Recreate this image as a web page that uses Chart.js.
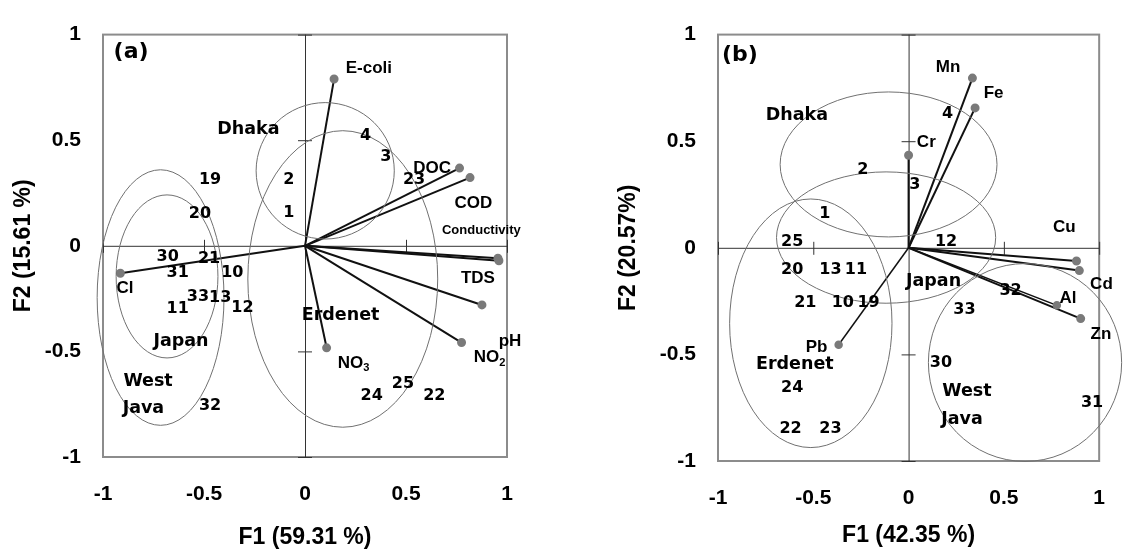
<!DOCTYPE html>
<html>
<head>
<meta charset="utf-8">
<script src="https://cdn.jsdelivr.net/npm/chart.js@4.4.1/dist/chart.umd.min.js"></script>
<style>
  html, body { margin: 0; padding: 0; background: #fff; }
  #wrap { position: relative; width: 1130px; height: 551px; }
  .panel { position: absolute; top: 0; height: 551px; }
  #pa { left: 0; width: 560px; }
  #pb { left: 560px; width: 570px; }
</style>
</head>
<body>
<div id="wrap">
  <div class="panel" id="pa"><canvas id="chartA"></canvas></div>
  <div class="panel" id="pb"><canvas id="chartB"></canvas></div>
</div>
<script>
// ---- panel (a) : water quality variables ----
const varNamesA = ["E-coli", "DOC", "COD", "Conductivity", "TDS", "pH", "NO2", "NO3", "Cl"];
const varF1A = [0.144, 0.765, 0.817, 0.955, 0.96, 0.876, 0.775, 0.107, -0.914];
const varF2A = [0.79, 0.368, 0.323, -0.059, -0.071, -0.28, -0.458, -0.483, -0.13];
const varTextA = ["E-coli", "DOC", "COD", "TDS", "pH", "NO_2", "NO_3", "Cl"];
const varTextF1A = [0.316, 0.629, 0.833, 0.856, 1.015, 0.914, 0.241, -0.891];
const varTextF2A = [0.842, 0.368, 0.199, -0.153, -0.45, -0.529, -0.556, -0.199];
const smallTextA = ["Conductivity"];
const smallTextF1A = [0.873];
const smallTextF2A = [0.074];

const obsA = ["19", "20", "30", "21", "31", "10", "11", "33", "13", "12", "32", "2", "1", "4", "3", "23", "24", "25", "22"];
const obsF1A = [-0.47, -0.52, -0.68, -0.475, -0.63, -0.36, -0.63, -0.53, -0.42, -0.31, -0.47, -0.08, -0.08, 0.30, 0.40, 0.54, 0.33, 0.485, 0.64];
const obsF2A = [0.31, 0.15, -0.05, -0.06, -0.13, -0.13, -0.30, -0.24, -0.245, -0.295, -0.76, 0.31, 0.155, 0.52, 0.42, 0.31, -0.71, -0.655, -0.71];

const groupsA = ["Dhaka", "Japan", "West", "Java", "Erdenet"];
const groupF1A = [-0.28, -0.614, -0.777, -0.80, 0.176];
const groupF2A = [0.55, -0.455, -0.64, -0.771, -0.329];

const ellCxA = [-0.683, -0.715, 0.10, 0.187];
const ellCyA = [-0.145, -0.245, 0.355, -0.157];
const ellRxA = [0.252, 0.314, 0.342, 0.47];
const ellRyA = [0.386, 0.605, 0.323, 0.702];

// ---- panel (b) : metals ----
const varNamesB = ["Mn", "Fe", "Cr", "Cu", "Cd", "Al", "Zn", "Pb"];
const varF1B = [0.335, 0.349, 0.0, 0.881, 0.896, 0.778, 0.903, -0.367];
const varF2B = [0.796, 0.656, 0.434, -0.062, -0.107, -0.27, -0.332, -0.455];
const varTextB = ["Mn", "Fe", "Cr", "Cu", "Cd", "Al", "Zn", "Pb"];
const varTextF1B = [0.207, 0.446, 0.093, 0.817, 1.012, 0.837, 1.009, -0.483];
const varTextF2B = [0.848, 0.724, 0.495, 0.098, -0.17, -0.237, -0.405, -0.467];

const obsB = ["4", "2", "3", "1", "25", "20", "13", "11", "12", "21", "10", "19", "32", "33", "30", "31", "24", "22", "23"];
const obsF1B = [0.204, -0.24, 0.033, -0.439, -0.611, -0.611, -0.41, -0.276, 0.197, -0.542, -0.345, -0.21, 0.535, 0.293, 0.17, 0.963, -0.611, -0.619, -0.41];
const obsF2B = [0.629, 0.364, 0.296, 0.161, 0.026, -0.105, -0.105, -0.105, 0.026, -0.26, -0.26, -0.26, -0.203, -0.293, -0.54, -0.725, -0.658, -0.848, -0.848];

const groupsB = ["Dhaka", "Japan", "Erdenet", "West", "Java"];
const groupF1B = [-0.586, 0.131, -0.597, 0.306, 0.28];
const groupF2B = [0.623, -0.158, -0.548, -0.673, -0.803];

const ellCxB = [-0.105, -0.118, -0.513, 0.611];
const ellCyB = [0.391, 0.048, -0.354, -0.538];
const ellRxB = [0.569, 0.575, 0.426, 0.507];
const ellRyB = [0.340, 0.308, 0.583, 0.464];

const tickVals = [-1, -0.5, 0, 0.5, 1];

const numFont = 'bold 16px "DejaVu Sans"';
const groupFont = 'bold 17.5px "DejaVu Sans"';

function drawText(ctx, txt, px, py, font) {
  ctx.font = font;
  let main = txt, sub = null;
  if (txt.indexOf('_') >= 0) { main = txt.split('_')[0]; sub = txt.split('_')[1]; }
  if (!sub) { ctx.textAlign = 'center'; ctx.fillText(main, px, py); return; }
  const size = parseFloat(font.match(/([\d.]+)px/)[1]);
  const subFont = font.replace(/[\d.]+px/, (size * 0.65).toFixed(1) + 'px');
  const w1 = ctx.measureText(main).width;
  ctx.font = subFont;
  const w2 = ctx.measureText(sub).width;
  const start = px - (w1 + w2) / 2;
  ctx.textAlign = 'left';
  ctx.font = font;
  ctx.fillText(main, start, py);
  ctx.font = subFont;
  ctx.fillText(sub, start + w1, py + size * 0.3);
}

const extras = {
  id: 'extras',
  beforeDatasetsDraw(chart, args, opts) {
    const {ctx, chartArea: a, scales: {x, y}} = chart;
    const x0 = x.getPixelForValue(0), y0 = y.getPixelForValue(0);
    ctx.save();
    ctx.strokeStyle = '#8c8c8c';
    ctx.lineWidth = 2;
    ctx.strokeRect(a.left, a.top, a.right - a.left, a.bottom - a.top);
    ctx.strokeStyle = '#333';
    ctx.lineWidth = 1;
    ctx.beginPath();
    ctx.moveTo(a.left, y0 + 0.5); ctx.lineTo(a.right, y0 + 0.5);
    ctx.moveTo(x0 + 0.5, a.top); ctx.lineTo(x0 + 0.5, a.bottom);
    tickVals.forEach(v => {
      if (v === 0) return;
      const px = x.getPixelForValue(v), py = y.getPixelForValue(v);
      ctx.moveTo(px + 0.5, y0 - 6); ctx.lineTo(px + 0.5, y0 + 7);
      ctx.moveTo(x0 - 7, py + 0.5); ctx.lineTo(x0 + 7, py + 0.5);
    });
    ctx.stroke();
    ctx.restore();
  },
  afterDatasetsDraw(chart, args, opts) {
    const {ctx, scales: {x, y}} = chart;
    const sx = (x.getPixelForValue(1) - x.getPixelForValue(0));
    const sy = (y.getPixelForValue(0) - y.getPixelForValue(1));
    ctx.save();
    ctx.strokeStyle = '#707070';
    ctx.lineWidth = 1;
    opts.ell.cx.forEach((cx, i) => {
      ctx.beginPath();
      ctx.ellipse(x.getPixelForValue(cx), y.getPixelForValue(opts.ell.cy[i]),
        opts.ell.rx[i] * sx, opts.ell.ry[i] * sy, 0, 0, Math.PI * 2);
      ctx.stroke();
    });
    ctx.fillStyle = '#000';
    ctx.textBaseline = 'middle';
    opts.texts.forEach(g => {
      g.t.forEach((t, i) => drawText(ctx, t, x.getPixelForValue(g.x[i]), y.getPixelForValue(g.y[i]), g.font));
    });
    ctx.restore();
  }
};

function vectorSets(f1, f2, widths) {
  return f1.map((v, i) => ({
    data: [{x: 0, y: 0}, {x: v, y: f2[i]}],
    showLine: true,
    borderColor: '#111',
    borderWidth: widths ? widths[i] : 2,
    pointRadius: [0, 3.5],
    pointBackgroundColor: '#7a7a7a',
    pointBorderColor: '#7a7a7a',
    clip: false
  }));
}

function makeChart(id, cfg) {
  const axisFont = {family: '"Liberation Sans"', size: 21, weight: 'bold'};
  const titleFont = {family: '"Liberation Sans"', size: 23, weight: 'bold'};
  return new Chart(document.getElementById(id), {
    type: 'scatter',
    data: {datasets: cfg.sets},
    options: {
      responsive: true,
      maintainAspectRatio: false,
      animation: false,
      layout: {padding: {top: 17, right: cfg.right, left: 0, bottom: 0}},
      scales: {
        x: {
          min: -1, max: 1,
          grid: {display: false, drawTicks: false},
          border: {display: false},
          ticks: {stepSize: 0.5, padding: 25, color: '#000', font: axisFont, callback: v => String(v), maxRotation: 0},
          title: {display: true, text: cfg.xTitle, color: '#000', font: titleFont, padding: {top: 0, bottom: cfg.xTitlePad}},
          afterFit: s => { s.height = cfg.xHeight; }
        },
        y: {
          min: -1, max: 1,
          grid: {display: false, drawTicks: false},
          border: {display: false},
          ticks: {stepSize: 0.5, padding: 22, color: '#000', font: axisFont, callback: v => String(v)},
          title: {display: true, text: cfg.yTitle, color: '#000', font: titleFont, padding: {top: cfg.yTitlePad, bottom: 0}},
          afterFit: s => { s.width = cfg.yWidth; }
        }
      },
      plugins: {
        legend: {display: false},
        tooltip: {enabled: false},
        extras: {ell: cfg.ell, texts: cfg.texts}
      }
    },
    plugins: [extras]
  });
}

makeChart('chartA', {
  sets: vectorSets(varF1A, varF2A),
  right: 53, yWidth: 103, xHeight: 94,
  xTitle: 'F1 (59.31 %)', yTitle: 'F2 (15.61 %)', xTitlePad: 0, yTitlePad: 10,
  ell: {cx: ellCxA, cy: ellCyA, rx: ellRxA, ry: ellRyA},
  texts: [
    {t: obsA, x: obsF1A, y: obsF2A, font: numFont},
    {t: groupsA, x: groupF1A, y: groupF2A, font: groupFont},
    {t: varTextA, x: varTextF1A, y: varTextF2A, font: 'bold 17px "Liberation Sans"'},
    {t: smallTextA, x: smallTextF1A, y: smallTextF2A, font: 'bold 13px "Liberation Sans"'},
    {t: ['(a)'], x: [-0.861], y: [0.918], font: 'bold 22px "DejaVu Sans"'}
  ]
});

makeChart('chartB', {
  sets: vectorSets(varF1B, varF2B, [2, 2, 2, 2, 2, 1.5, 2, 1.5]),
  right: 21, yWidth: 158, xHeight: 90,
  xTitle: 'F1 (42.35 %)', yTitle: 'F2 (20.57%)', xTitlePad: 2, yTitlePad: 55,
  ell: {cx: ellCxB, cy: ellCyB, rx: ellRxB, ry: ellRyB},
  texts: [
    {t: obsB, x: obsF1B, y: obsF2B, font: numFont},
    {t: groupsB, x: groupF1B, y: groupF2B, font: groupFont},
    {t: varTextB, x: varTextF1B, y: varTextF2B, font: 'bold 17px "Liberation Sans"'},
    {t: ['(b)'], x: [-0.885], y: [0.905], font: 'bold 22px "DejaVu Sans"'}
  ]
});
</script>
</body>
</html>
